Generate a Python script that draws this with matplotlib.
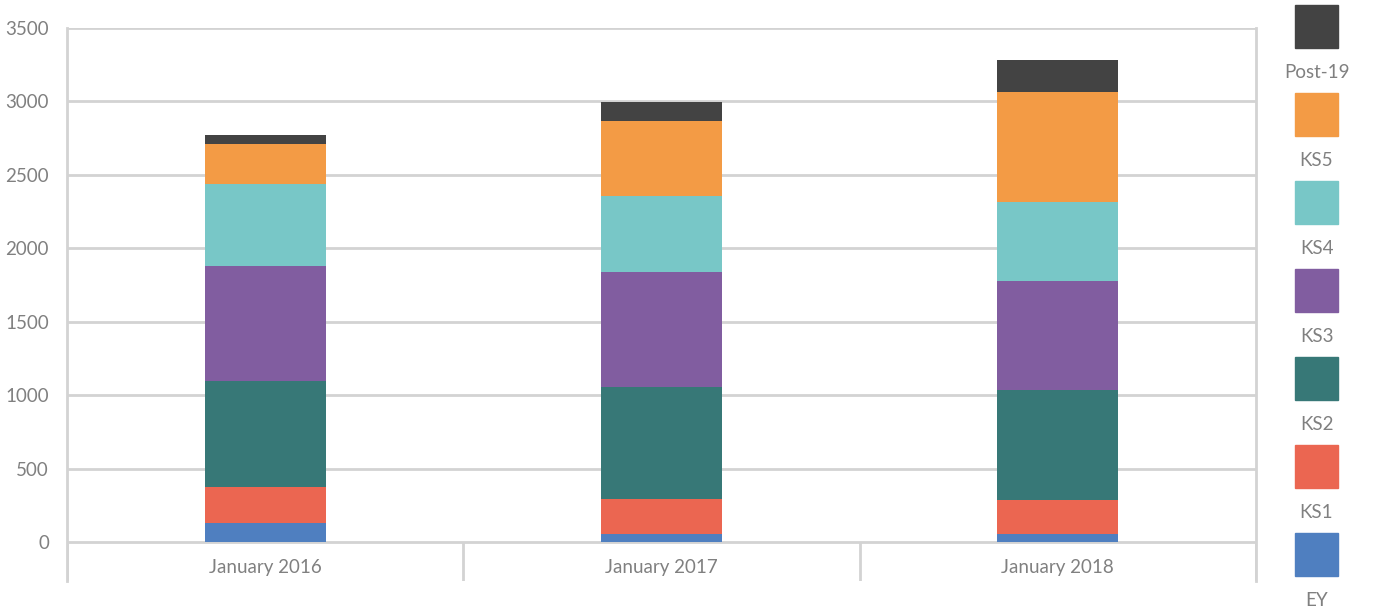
import numpy as np
import matplotlib
matplotlib.use("Agg")
import matplotlib.pyplot as plt
from matplotlib.patches import Rectangle

# Pupil numbers by key stage, one value per January census
years = ["January 2016", "January 2017", "January 2018"]
stages = ["EY", "KS1", "KS2", "KS3", "KS4", "KS5", "Post-19"]
ey = [127, 57, 55]
ks1 = [245, 234, 229]
ks2 = [722, 762, 748]
ks3 = [782, 783, 742]
ks4 = [563, 521, 543]
ks5 = [274, 513, 750]
post19 = [55, 129, 218]
colors = ["#4F7FC0", "#EB6651", "#377877", "#815DA0", "#78C7C7", "#F39B45", "#434343"]

series = [ey, ks1, ks2, ks3, ks4, ks5, post19]

W, H = 1377, 612
TEXT = "#808080"
GRID = "#D3D3D3"
plt.rcParams["font.family"] = ["Lato", "DejaVu Sans"]

fig = plt.figure(figsize=(W / 100, H / 100), dpi=100)
# axes spans from the 3500 line down to the bottom of the category band
left, right, top, bottom = 67, 1256, 28, 581
ax = fig.add_axes([left / W, 1 - bottom / H, (right - left) / W, (bottom - top) / H])

ymax = 3500
ybot = -(bottom - 542) * ymax / (542 - top)
ax.set_ylim(ybot, ymax)
ax.set_xlim(-0.5, len(years) - 0.5)

x = np.arange(len(years))
base = np.zeros(len(years))
for vals, c in zip(series, colors):
    ax.bar(x, vals, width=0.305, bottom=base, color=c, zorder=3)
    base += np.array(vals)

# horizontal gridlines
for v in range(0, ymax + 1, 500):
    ax.axhline(v, color=GRID, lw=2, zorder=1)
# category separators below the zero line
for sep in np.arange(-0.5, len(years), 1.0):
    ax.plot([sep, sep], [ybot, 0], color=GRID, lw=2, zorder=1, solid_capstyle="butt")

for s in ["top", "bottom"]:
    ax.spines[s].set_visible(False)
for s in ["left", "right"]:
    ax.spines[s].set_color(GRID)
    ax.spines[s].set_linewidth(2)

ax.set_yticks(range(0, ymax + 1, 500))
ax.tick_params(axis="y", length=0, pad=13, labelsize=13.5, labelcolor=TEXT)
ax.set_xticks([])
for i, lab in enumerate(years):
    ax.text(i, ybot * 0.66, lab, ha="center", va="center", fontsize=13.5, color=TEXT)

# stacked legend on the right, labels under each swatch
for k, (name, c) in enumerate(zip(stages[::-1], colors[::-1])):
    y0 = 5 + 88 * k
    fig.patches.append(Rectangle((1295 / W, 1 - (y0 + 43) / H), 43 / W, 43 / H,
                                 transform=fig.transFigure, color=c))
    fig.text(1316.5 / W, 1 - (y0 + 67) / H, name, ha="center", va="center",
             fontsize=13.5, color=TEXT)

fig.savefig("out.png", dpi=100)
